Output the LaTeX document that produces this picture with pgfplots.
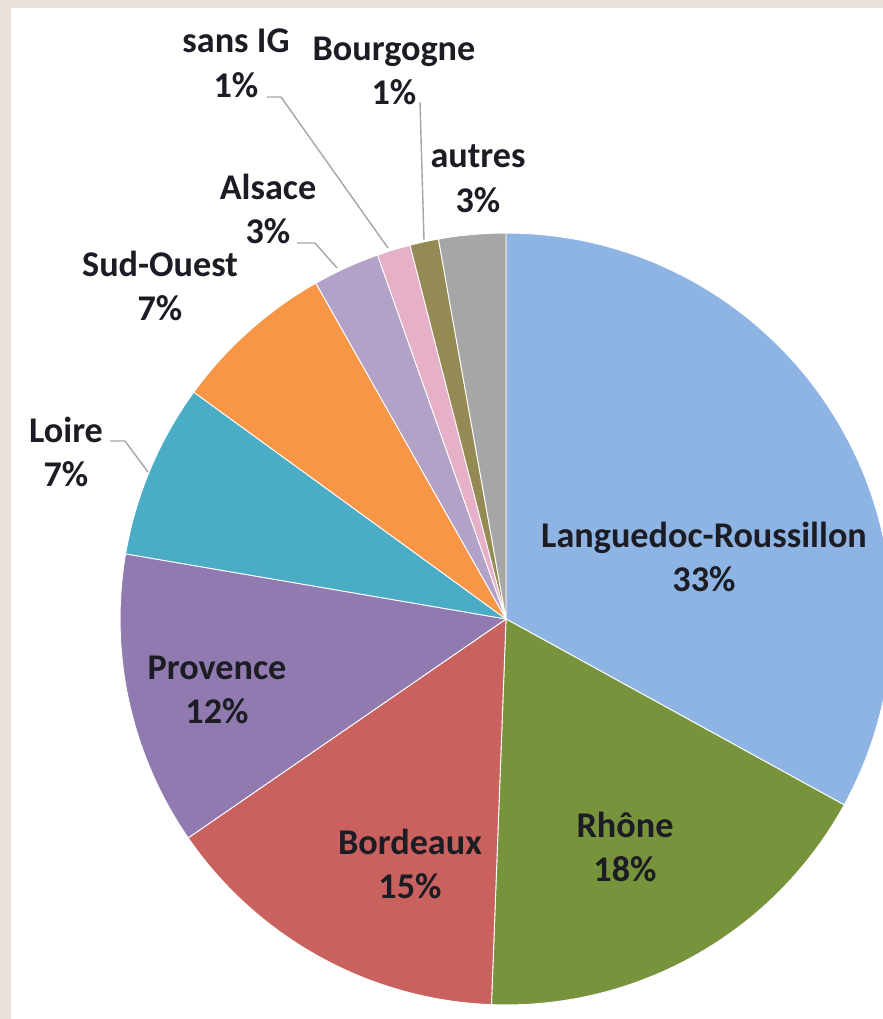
\documentclass[border=0pt]{standalone}
\usepackage{pgfplots}
\pgfplotsset{compat=1.18}
\usepackage{pgfplotstable}
\usepackage{fontspec}
\setmainfont{Carlito}

\definecolor{cLR}{HTML}{8EB4E3}
\definecolor{cRh}{HTML}{77933C}
\definecolor{cBx}{HTML}{C9625E}
\definecolor{cPr}{HTML}{907AB0}
\definecolor{cLo}{HTML}{4BACC6}
\definecolor{cSO}{HTML}{F79646}
\definecolor{cAl}{HTML}{B3A2C7}
\definecolor{cIG}{HTML}{E6B0C8}
\definecolor{cBg}{HTML}{948A54}
\definecolor{cAu}{HTML}{A6A6A6}
\definecolor{frame}{HTML}{E9E1DB}
\definecolor{txt}{HTML}{1C1C24}

\tikzset{lbl/.style={font=\fontsize{20.6}{25.5}\selectfont\bfseries, text=txt, align=center, inner sep=0pt}}

% share of each region, clockwise from 12 o'clock
\pgfplotstableread{
region value col
Languedoc 33.0 cLR
Rhone     17.6 cRh
Bordeaux  14.8 cBx
Provence  12.3 cPr
Loire      7.3 cLo
SudOuest   6.8 cSO
Alsace     2.8 cAl
sansIG     1.4 cIG
Bourgogne  1.2 cBg
autres     2.8 cAu
}\piedata

\begin{document}
\begin{tikzpicture}
\begin{axis}[
  x=0.02cm, y=0.02cm,
  xmin=0, xmax=883, ymin=0, ymax=1019,
  hide axis,
]
\fill[frame] (axis cs:0,0) rectangle (axis cs:883,1019);
\fill[white] (axis cs:11,0) rectangle (axis cs:883,1011);

\def\angstart{90}
\pgfplotsforeachungrouped \i in {0,...,9}{%
  \pgfplotstablegetelem{\i}{value}\of\piedata \let\v\pgfplotsretval
  \pgfplotstablegetelem{\i}{col}\of\piedata \let\c\pgfplotsretval
  \pgfmathsetmacro\angend{\angstart-3.6*\v}%
  \edef\temp{\noexpand\fill[\c, draw=white, line width=0.5pt]
    (axis cs:506,400) -- ++(\angstart:7.72cm)
    arc[start angle=\angstart, end angle=\angend, radius=7.72cm] -- cycle;}%
  \temp
  \global\let\angstart\angend
}

% leader lines
\draw[gray!70, line width=0.8pt] (axis cs:267,922) -- (axis cs:281,922) -- (axis cs:388,771);
\draw[gray!70, line width=0.8pt] (axis cs:420,917) -- (axis cs:424,779);
\draw[gray!70, line width=0.8pt] (axis cs:297,776) -- (axis cs:315,776) -- (axis cs:337,751);
\draw[gray!70, line width=0.8pt] (axis cs:110,578) -- (axis cs:125,578) -- (axis cs:148,547);

% labels
\node[lbl] at (axis cs:704,462) {Languedoc-Roussillon\\33\%};
\node[lbl] at (axis cs:625,172) {Rhône\\18\%};
\node[lbl] at (axis cs:410,155) {Bordeaux\\15\%};
\node[lbl] at (axis cs:217,329) {Provence\\12\%};
\node[lbl] at (axis cs:66,567) {Loire\\7\%};
\node[lbl] at (axis cs:160,733) {Sud-Ouest\\7\%};
\node[lbl] at (axis cs:268,810) {Alsace\\3\%};
\node[lbl] at (axis cs:236,956) {sans IG\\1\%};
\node[lbl] at (axis cs:394,948) {Bourgogne\\1\%};
\node[lbl] at (axis cs:478,840) {autres\\3\%};
\end{axis}
\end{tikzpicture}
\end{document}
